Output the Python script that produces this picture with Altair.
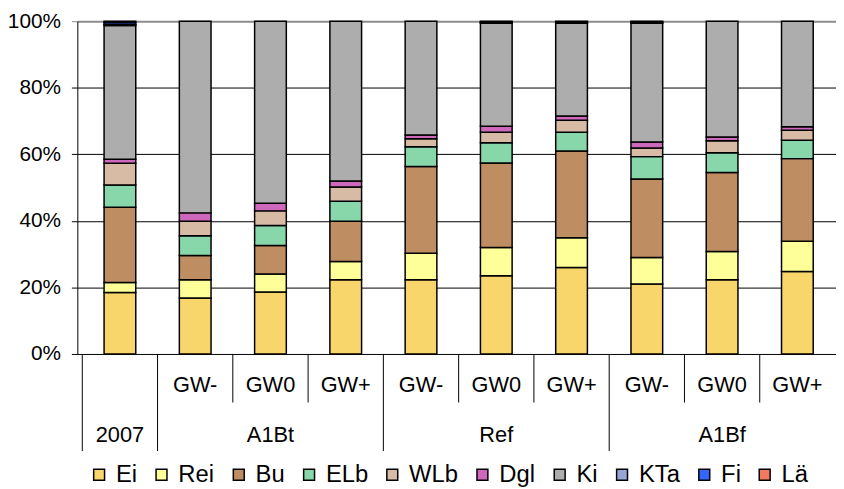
import altair as alt
import pandas as pd

# ---- data ----
scenario = ["2007", "A1Bt", "A1Bt", "A1Bt", "Ref", "Ref", "Ref", "A1Bf", "A1Bf", "A1Bf"]
gw = ["", "GW-", "GW0", "GW+", "GW-", "GW0", "GW+", "GW-", "GW0", "GW+"]

species = ["Ei", "Rei", "Bu", "ELb", "WLb", "Dgl", "Ki", "KTa", "Fi", "Lä"]
colors = ["#F9D66B", "#FFFF99", "#BF8D62", "#88D7AB", "#D8BBA4",
          "#CD68BD", "#ADADAD", "#95A5D8", "#3366FF", "#F4775F"]

Ei = [18.5, 16.8, 18.6, 22.3, 22.3, 23.5, 26.0, 21.0, 22.3, 24.8]
Rei = [3.0, 5.5, 5.4, 5.5, 8.0, 8.5, 8.9, 8.0, 8.5, 9.1]
Bu = [22.6, 7.3, 8.6, 12.1, 26.0, 25.4, 26.1, 23.6, 23.7, 24.8]
ELb = [6.7, 5.9, 6.0, 6.0, 6.0, 6.1, 5.6, 6.7, 6.0, 5.5]
WLb = [6.5, 4.4, 4.4, 4.3, 2.4, 3.1, 3.6, 2.6, 3.6, 3.0]
Dgl = [1.2, 2.5, 2.3, 1.8, 1.1, 1.8, 1.3, 1.8, 1.1, 1.1]
Ki = [40.2, 57.6, 54.7, 48.0, 34.2, 31.0, 27.9, 35.7, 34.8, 31.7]
KTa = [0.3, 0, 0, 0, 0, 0.1, 0.1, 0.1, 0, 0]
Fi = [0.6, 0, 0, 0, 0, 0.3, 0.3, 0.3, 0, 0]
La = [0.4, 0, 0, 0, 0, 0.2, 0.2, 0.2, 0, 0]

series = [Ei, Rei, Bu, ELb, WLb, Dgl, Ki, KTa, Fi, La]

rows = []
for i in range(len(scenario)):
    for k, (sp, vals) in enumerate(zip(species, series)):
        if vals[i] > 0:
            rows.append({"idx": i, "species": sp, "k": k, "value": vals[i]})
df = pd.DataFrame(rows)

lbl = pd.DataFrame({"idx": list(range(len(scenario))), "scenario": scenario, "gw": gw})

seps = [{"b": 0, "long": True}]
for i in range(1, len(scenario)):
    seps.append({"b": i, "long": scenario[i] != scenario[i - 1]})
sep_df = pd.DataFrame(seps)

FONT = "Liberation Sans"
xscale = alt.Scale(domain=[0, len(scenario)], range=[0, 770], nice=False, zero=False)

yaxis = alt.Axis(
    values=[0, 0.2, 0.4, 0.6, 0.8, 1.0], format=".0%", title=None,
    grid=True,
    gridColor=alt.condition("datum.value >= 1", alt.value("#8c8c8c"), alt.value("#000000")),
    gridWidth=alt.condition("datum.value >= 1", alt.value(2), alt.value(1)),
    tickColor=alt.condition("datum.value >= 1", alt.value("#8c8c8c"), alt.value("#000000")),
    tickSize=6, labelPadding=11, labelFontSize=21, labelColor="black",
    labelFont=FONT, domainColor="black", domainWidth=1,
)

legend = alt.Legend(
    orient="none", legendX=10, legendY=446, direction="horizontal", columns=10,
    title=None, symbolType="square", symbolSize=121, symbolStrokeColor="black",
    symbolStrokeWidth=1.5, symbolOpacity=1, labelFontSize=24, labelOffset=5,
    columnPadding=12, padding=0, labelColor="black", labelFont=FONT,
)

bars = alt.Chart(df).transform_calculate(pos="datum.idx + 0.5").mark_bar(
    size=32, stroke="black", strokeWidth=1.5, opacity=1
).encode(
    x=alt.X("pos:Q", scale=xscale, axis=None),
    y=alt.Y("value:Q", stack="normalize", scale=alt.Scale(domain=[0, 1]), axis=yaxis),
    color=alt.Color("species:N", scale=alt.Scale(domain=species, range=colors), legend=legend),
    order=alt.Order("k:Q"),
)

short_sep = alt.Chart(sep_df).transform_filter("!datum.long").mark_rule(
    color="black", strokeWidth=1
).encode(x=alt.X("b:Q", scale=xscale, axis=None), y=alt.value(336), y2=alt.value(385))

long_sep = alt.Chart(sep_df).transform_filter("datum.long").mark_rule(
    color="black", strokeWidth=1
).encode(x=alt.X("b:Q", scale=xscale, axis=None), y=alt.value(336), y2=alt.value(434))

row1 = alt.Chart(lbl).transform_filter("datum.gw != ''").transform_calculate(
    pos="datum.idx + 0.5"
).mark_text(fontSize=22, font=FONT, baseline="middle", align="center", color="black").encode(
    x=alt.X("pos:Q", scale=xscale, axis=None), y=alt.value(367.7), text="gw:N"
)

row2 = alt.Chart(lbl).transform_aggregate(
    c="mean(idx)", groupby=["scenario"]
).transform_calculate(pos="datum.c + 0.5").mark_text(
    fontSize=22, font=FONT, baseline="middle", align="center", color="black"
).encode(x=alt.X("pos:Q", scale=xscale, axis=None), y=alt.value(417.7), text="scenario:N")

chart = alt.layer(bars, short_sep, long_sep, row1, row2).properties(
    width=766, height=336,
    autosize=alt.AutoSizeParams(type="none"),
    padding={"left": 70, "top": 11, "right": 0, "bottom": 132},
).configure(font=FONT).configure_view(stroke=None)

chart.save("out.html", embed_options={"renderer": "svg", "actions": False})
